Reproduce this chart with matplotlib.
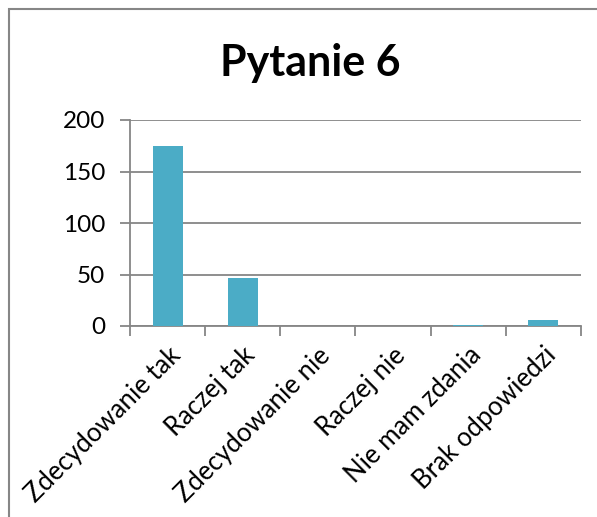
import matplotlib
matplotlib.use("Agg")
import matplotlib.pyplot as plt
from matplotlib.patches import Rectangle
import numpy as np

categories = ["Zdecydowanie tak", "Raczej tak", "Zdecydowanie nie",
              "Raczej nie", "Nie mam zdania", "Brak odpowiedzi"]
values = [175, 47, 0, 0, 1, 6]
yticks = [0, 50, 100, 150, 200]
title = "Pytanie 6"

plt.rcParams['font.family'] = ['Lato', 'DejaVu Sans']

W, H = 597, 517
fig = plt.figure(figsize=(W / 100, H / 100), dpi=100)

# outer chart frame (cropped at right and bottom)
fig.patches.append(Rectangle((9 / W, -0.1), 1.1, 1 - 9 / H + 0.1,
                             transform=fig.transFigure, fill=False,
                             edgecolor='#868686', linewidth=1.5))

ax = fig.add_axes([130 / W, 1 - 326 / H, (581 - 130) / W, (326 - 120) / H])
x = np.arange(len(categories))
ax.bar(x, values, width=0.4, color='#4BACC6', zorder=3)
ax.set_xlim(-0.5, len(categories) - 0.5)
ax.set_ylim(0, 200)
ax.set_yticks(yticks)
ax.grid(axis='y', color='#868686', linewidth=1.3, zorder=1)
ax.set_axisbelow(True)
for s in ['top', 'right']:
    ax.spines[s].set_visible(False)
for s in ['left', 'bottom']:
    ax.spines[s].set_color('#868686')
    ax.spines[s].set_linewidth(1.3)
ax.tick_params(axis='y', direction='out', length=7, width=1.3,
               color='#868686', labelsize=17.5, pad=11)
ax.set_xticks(x)
ax.set_xticklabels(categories, rotation=45, ha='right', va='top',
                   rotation_mode='anchor', fontsize=18.5)
ax.tick_params(axis='x', which='major', length=0, pad=12)
ax.set_xticks(np.arange(-0.5, len(categories)), minor=True)
ax.tick_params(axis='x', which='minor', direction='out', length=7,
               width=1.3, color='#868686')

fig.text(310 / W, 1 - 63 / H, title, ha='center', va='center',
         fontsize=31, fontweight='bold')

fig.savefig("out.png", dpi=100)
